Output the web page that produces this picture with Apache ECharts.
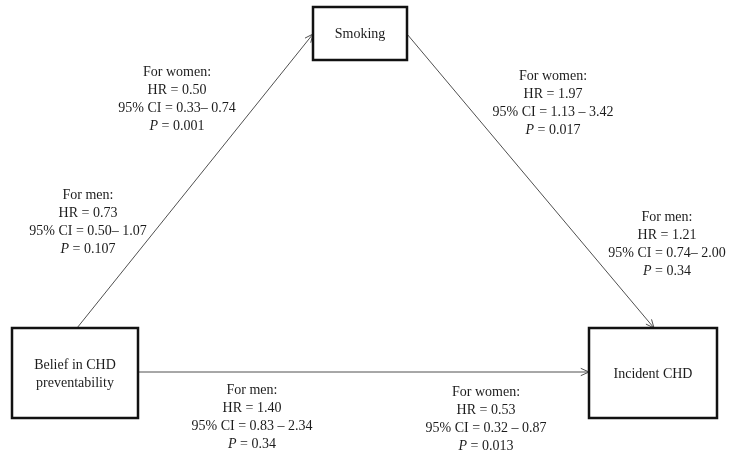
<!DOCTYPE html>
<html>
<head>
<meta charset="utf-8">
<script src="https://cdn.jsdelivr.net/npm/echarts@6/dist/echarts.min.js"></script>
<style>html,body{margin:0;padding:0;background:#fff}#c{width:729px;height:457px}</style>
</head>
<body>
<div id="c"></div>
<script>
// ---- data ----
const nodeNames = ['Smoking', 'Belief in CHD\npreventability', 'Incident CHD'];
const edgeSource = [1, 0, 1];
const edgeTarget = [0, 2, 2];
const statGroup = ['For women:', 'For men:', 'For women:', 'For men:', 'For men:', 'For women:'];
const statHR = ['0.50', '0.73', '1.97', '1.21', '1.40', '0.53'];
const statCI = ['0.33\u2013 0.74', '0.50\u2013 1.07', '1.13 \u2013 3.42', '0.74\u2013 2.00', '0.83 \u2013 2.34', '0.32 \u2013 0.87'];
const statP = ['0.001', '0.107', '0.017', '0.34', '0.34', '0.013'];

// ---- layout (positions in the 729x457 canvas space) ----
const boxLayout = [
  { x: 313, y: 7, w: 94, h: 53 },
  { x: 12, y: 328, w: 126, h: 90 },
  { x: 589, y: 328, w: 128, h: 90 }
];
const edgeLayout = [
  { from: [77, 328], to: [313, 34] },
  { from: [407, 34], to: [654, 328] },
  { from: [138, 372], to: [589, 372] }
];
const labelLayout = [
  [177, 63], [88, 186], [553, 67], [667, 208], [252, 381], [486, 383]
];

const FONT = '14px "Liberation Serif", "Times New Roman", serif';
const TXT = '#1c1c1c';

const chart = echarts.init(document.getElementById('c'));
chart.setOption({
  animation: false,
  backgroundColor: '#fff',
  grid: { left: 0, right: 0, top: 0, bottom: 0 },
  xAxis: { type: 'value', min: 0, max: 729, show: false },
  yAxis: { type: 'value', min: 0, max: 457, inverse: true, show: false },
  series: [
    {
      type: 'custom',
      data: edgeSource.map((s, i) => [i, s, edgeTarget[i]]),
      renderItem: function (params, api) {
        const i = api.value(0);
        const L = edgeLayout[i];
        const p0 = api.coord(L.from), p1 = api.coord(L.to);
        const a = Math.atan2(p1[1] - p0[1], p1[0] - p0[0]);
        const len = 9, th = 0.42;
        const arm1 = [p1[0] - len * Math.cos(a - th), p1[1] - len * Math.sin(a - th)];
        const arm2 = [p1[0] - len * Math.cos(a + th), p1[1] - len * Math.sin(a + th)];
        return {
          type: 'group',
          children: [
            { type: 'line', shape: { x1: p0[0], y1: p0[1], x2: p1[0], y2: p1[1] }, style: { stroke: '#505050', lineWidth: 1 } },
            { type: 'polyline', shape: { points: [arm1, p1, arm2] }, style: { stroke: '#505050', lineWidth: 1, fill: null } }
          ]
        };
      }
    },
    {
      type: 'custom',
      data: nodeNames.map((n, i) => [i]),
      renderItem: function (params, api) {
        const i = api.value(0);
        const b = boxLayout[i];
        const tl = api.coord([b.x, b.y]), br = api.coord([b.x + b.w, b.y + b.h]);
        return {
          type: 'group',
          children: [
            { type: 'rect', shape: { x: tl[0], y: tl[1], width: br[0] - tl[0], height: br[1] - tl[1] }, style: { fill: '#fff', stroke: '#111', lineWidth: 2.5 } },
            { type: 'text', style: { text: nodeNames[i], x: (tl[0] + br[0]) / 2, y: (tl[1] + br[1]) / 2 + 1, align: 'center', verticalAlign: 'middle', font: FONT, lineHeight: 18, fill: TXT } }
          ]
        };
      }
    },
    {
      type: 'custom',
      data: statGroup.map((g, i) => [i]),
      renderItem: function (params, api) {
        const i = api.value(0);
        const p = api.coord(labelLayout[i]);
        const txt = statGroup[i] + '\nHR = ' + statHR[i] + '\n95% CI = ' + statCI[i] + '\n{i|P} = ' + statP[i];
        return {
          type: 'text',
          style: {
            text: txt, x: p[0], y: p[1], align: 'center', verticalAlign: 'top',
            font: FONT, lineHeight: 18, fill: TXT,
            rich: { i: { fontStyle: 'italic', fontFamily: '"Liberation Serif", "Times New Roman", serif', fontSize: 14, lineHeight: 18, fill: TXT } }
          }
        };
      }
    }
  ]
});
</script>
</body>
</html>
